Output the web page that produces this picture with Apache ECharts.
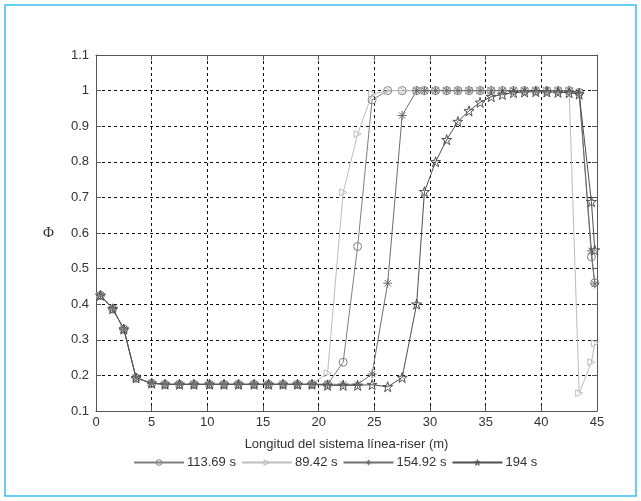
<!DOCTYPE html>
<html style="height: 100%">
  <head>
    <meta charset="utf-8" />
  </head>
  <body style="height: 100%; margin: 0; background: #fff">
    <div id="chart" style="width: 641px; height: 501px"></div>
    <script type="text/javascript" src="https://cdn.jsdelivr.net/npm/echarts@6/dist/echarts.min.js"></script>
    <script type="text/javascript">
      // posiciones a lo largo del sistema (m)
      const xs = [0.4, 1.5, 2.5, 3.6, 5.0, 6.2, 7.5, 8.8, 10.2, 11.5, 12.8, 14.2, 15.5, 16.8, 18.1, 19.4,
        20.8, 22.2, 23.5, 24.8, 26.2, 27.5, 28.8, 29.5, 30.5, 31.5, 32.5, 33.5, 34.5, 35.5, 36.5, 37.5,
        38.5, 39.5, 40.5, 41.5, 42.5, 43.4, 44.5, 44.8];

      const seriesNames = ["113.69 s", "89.42 s", "154.92 s", "194 s"];

      // Phi para cada instante
      const phi113 = [0.425, 0.387, 0.33, 0.193, 0.178, 0.175, 0.175, 0.175, 0.175, 0.175, 0.175, 0.175, 0.175, 0.175, 0.175, 0.175,
        0.175, 0.237, 0.562, 0.974, 1.0, 1.0, 1.0, 1.0, 1.0, 1.0, 1.0, 1.0, 1.0, 1.0, 1.0, 1.0,
        1.0, 1.0, 1.0, 1.0, 1.0, 0.995, 0.533, 0.46];
      const phi89 = [0.425, 0.387, 0.33, 0.193, 0.178, 0.175, 0.175, 0.175, 0.175, 0.175, 0.175, 0.175, 0.175, 0.175, 0.175, 0.175,
        0.206, 0.714, 0.878, 0.99, 1.0, 1.0, 1.0, 1.0, 1.0, 1.0, 1.0, 1.0, 1.0, 1.0, 1.0, 1.0,
        1.0, 1.0, 1.0, 1.0, 1.0, 0.15, 0.237, 0.29];
      const phi154 = [0.425, 0.387, 0.33, 0.193, 0.178, 0.175, 0.175, 0.175, 0.175, 0.175, 0.175, 0.175, 0.175, 0.175, 0.175, 0.175,
        0.175, 0.175, 0.175, 0.204, 0.459, 0.93, 1.0, 1.0, 1.0, 1.0, 1.0, 1.0, 1.0, 1.0, 1.0, 1.0,
        1.0, 1.0, 1.0, 1.0, 1.0, 0.995, 0.55, 0.457];
      const phi194 = [0.425, 0.387, 0.33, 0.193, 0.178, 0.175, 0.175, 0.175, 0.175, 0.175, 0.175, 0.175, 0.175, 0.175, 0.175, 0.175,
        0.172, 0.172, 0.172, 0.174, 0.168, 0.194, 0.40, 0.716, 0.80, 0.862, 0.913, 0.943, 0.967, 0.983, 0.989, 0.994,
        0.996, 0.997, 0.996, 0.995, 0.994, 0.99, 0.688, 0.552];

      const xTicks = [0, 5, 10, 15, 20, 25, 30, 35, 40, 45];
      const yTicks = [0.1, 0.2, 0.3, 0.4, 0.5, 0.6, 0.7, 0.8, 0.9, 1, 1.1];

      const starPath = "path://M50,2 L61,36 L97,36 L68,57 L79,92 L50,71 L21,92 L32,57 L3,36 L39,36 Z";
      const astPath = "path://M50,0 L50,100 M0,50 L100,50 M15,15 L85,85 M85,15 L15,85";
      const triPath = "path://M0,0 L100,50 L0,100 Z";

      function pairs(ys) {
        return xs.map(function (x, i) { return [x, ys[i]]; });
      }

      function mkSeries(name, ys, color, symbol, size) {
        return {
          name: name,
          type: "line",
          data: pairs(ys),
          symbol: symbol,
          symbolSize: size,
          showAllSymbol: true,
          lineStyle: { color: color, width: 1 },
          itemStyle: { color: "rgba(255,255,255,0)", borderColor: color, borderWidth: 1 },
          emphasis: { disabled: true },
          animation: false,
        };
      }

      const font = "Liberation Sans, Arial, sans-serif";
      const gridLine = { show: true, lineStyle: { color: "#111", type: [3, 3], width: 1 } };

      var myChart = echarts.init(document.getElementById("chart"));

      var option = {
        backgroundColor: "#fff",
        graphic: [
          {
            type: "rect",
            shape: { x: 5, y: 5, width: 631, height: 491 },
            style: { fill: "none", stroke: "#35bfee", lineWidth: 1.5 },
            silent: true,
          },
        ],
        grid: { left: 96, right: 44, top: 55, bottom: 90 },
        legend: {
          data: seriesNames,
          bottom: 27,
          left: 128,
          itemWidth: 50,
          itemHeight: 7,
          itemGap: 5,
          itemStyle: { color: "rgba(255,255,255,0)", borderWidth: 1 },
          textStyle: { color: "#333", fontSize: 13, fontFamily: font, padding: [0, 0, 0, -2] },
        },
        xAxis: [
          {
            type: "value",
            min: 0,
            max: 45,
            interval: 5,
            name: "Longitud del sistema línea-riser (m)",
            nameLocation: "middle",
            nameGap: 27,
            nameTextStyle: { color: "#333", fontSize: 13, fontFamily: font },
            axisLine: { show: true, onZero: false, lineStyle: { color: "#555", width: 1 } },
            axisTick: { show: true, inside: true, length: 5, lineStyle: { color: "#555" } },
            axisLabel: { color: "#333", fontSize: 13, fontFamily: font, margin: 5 },
            splitLine: gridLine,
          },
          {
            type: "value",
            position: "top",
            min: 0,
            max: 45,
            interval: 5,
            axisLine: { show: true, onZero: false, lineStyle: { color: "#555", width: 1 } },
            axisTick: { show: true, inside: true, length: 5, lineStyle: { color: "#555" } },
            axisLabel: { show: false },
            splitLine: { show: false },
          },
        ],
        yAxis: [
          {
            type: "value",
            min: 0.1,
            max: 1.1,
            interval: 0.1,
            name: "Φ",
            nameLocation: "middle",
            nameRotate: 0,
            nameGap: 42,
            nameTextStyle: { color: "#333", fontSize: 15, fontFamily: "Liberation Serif, DejaVu Serif, serif" },
            axisLine: { show: true, onZero: false, lineStyle: { color: "#555", width: 1 } },
            axisTick: { show: true, inside: true, length: 5, lineStyle: { color: "#555" } },
            axisLabel: { color: "#333", fontSize: 13, fontFamily: font, margin: 7 },
            splitLine: gridLine,
          },
          {
            type: "value",
            position: "right",
            min: 0.1,
            max: 1.1,
            interval: 0.1,
            axisLine: { show: true, onZero: false, lineStyle: { color: "#555", width: 1 } },
            axisTick: { show: true, inside: true, length: 5, lineStyle: { color: "#555" } },
            axisLabel: { show: false },
            splitLine: { show: false },
          },
        ],
        series: [
          mkSeries(seriesNames[0], phi113, "#808080", "circle", 8),
          mkSeries(seriesNames[1], phi89, "#bdbdbd", triPath, 7),
          mkSeries(seriesNames[2], phi154, "#6e6e6e", astPath, 9),
          mkSeries(seriesNames[3], phi194, "#4f4f4f", starPath, 10),
        ],
      };

      myChart.setOption(option);
    </script>
  </body>
</html>
